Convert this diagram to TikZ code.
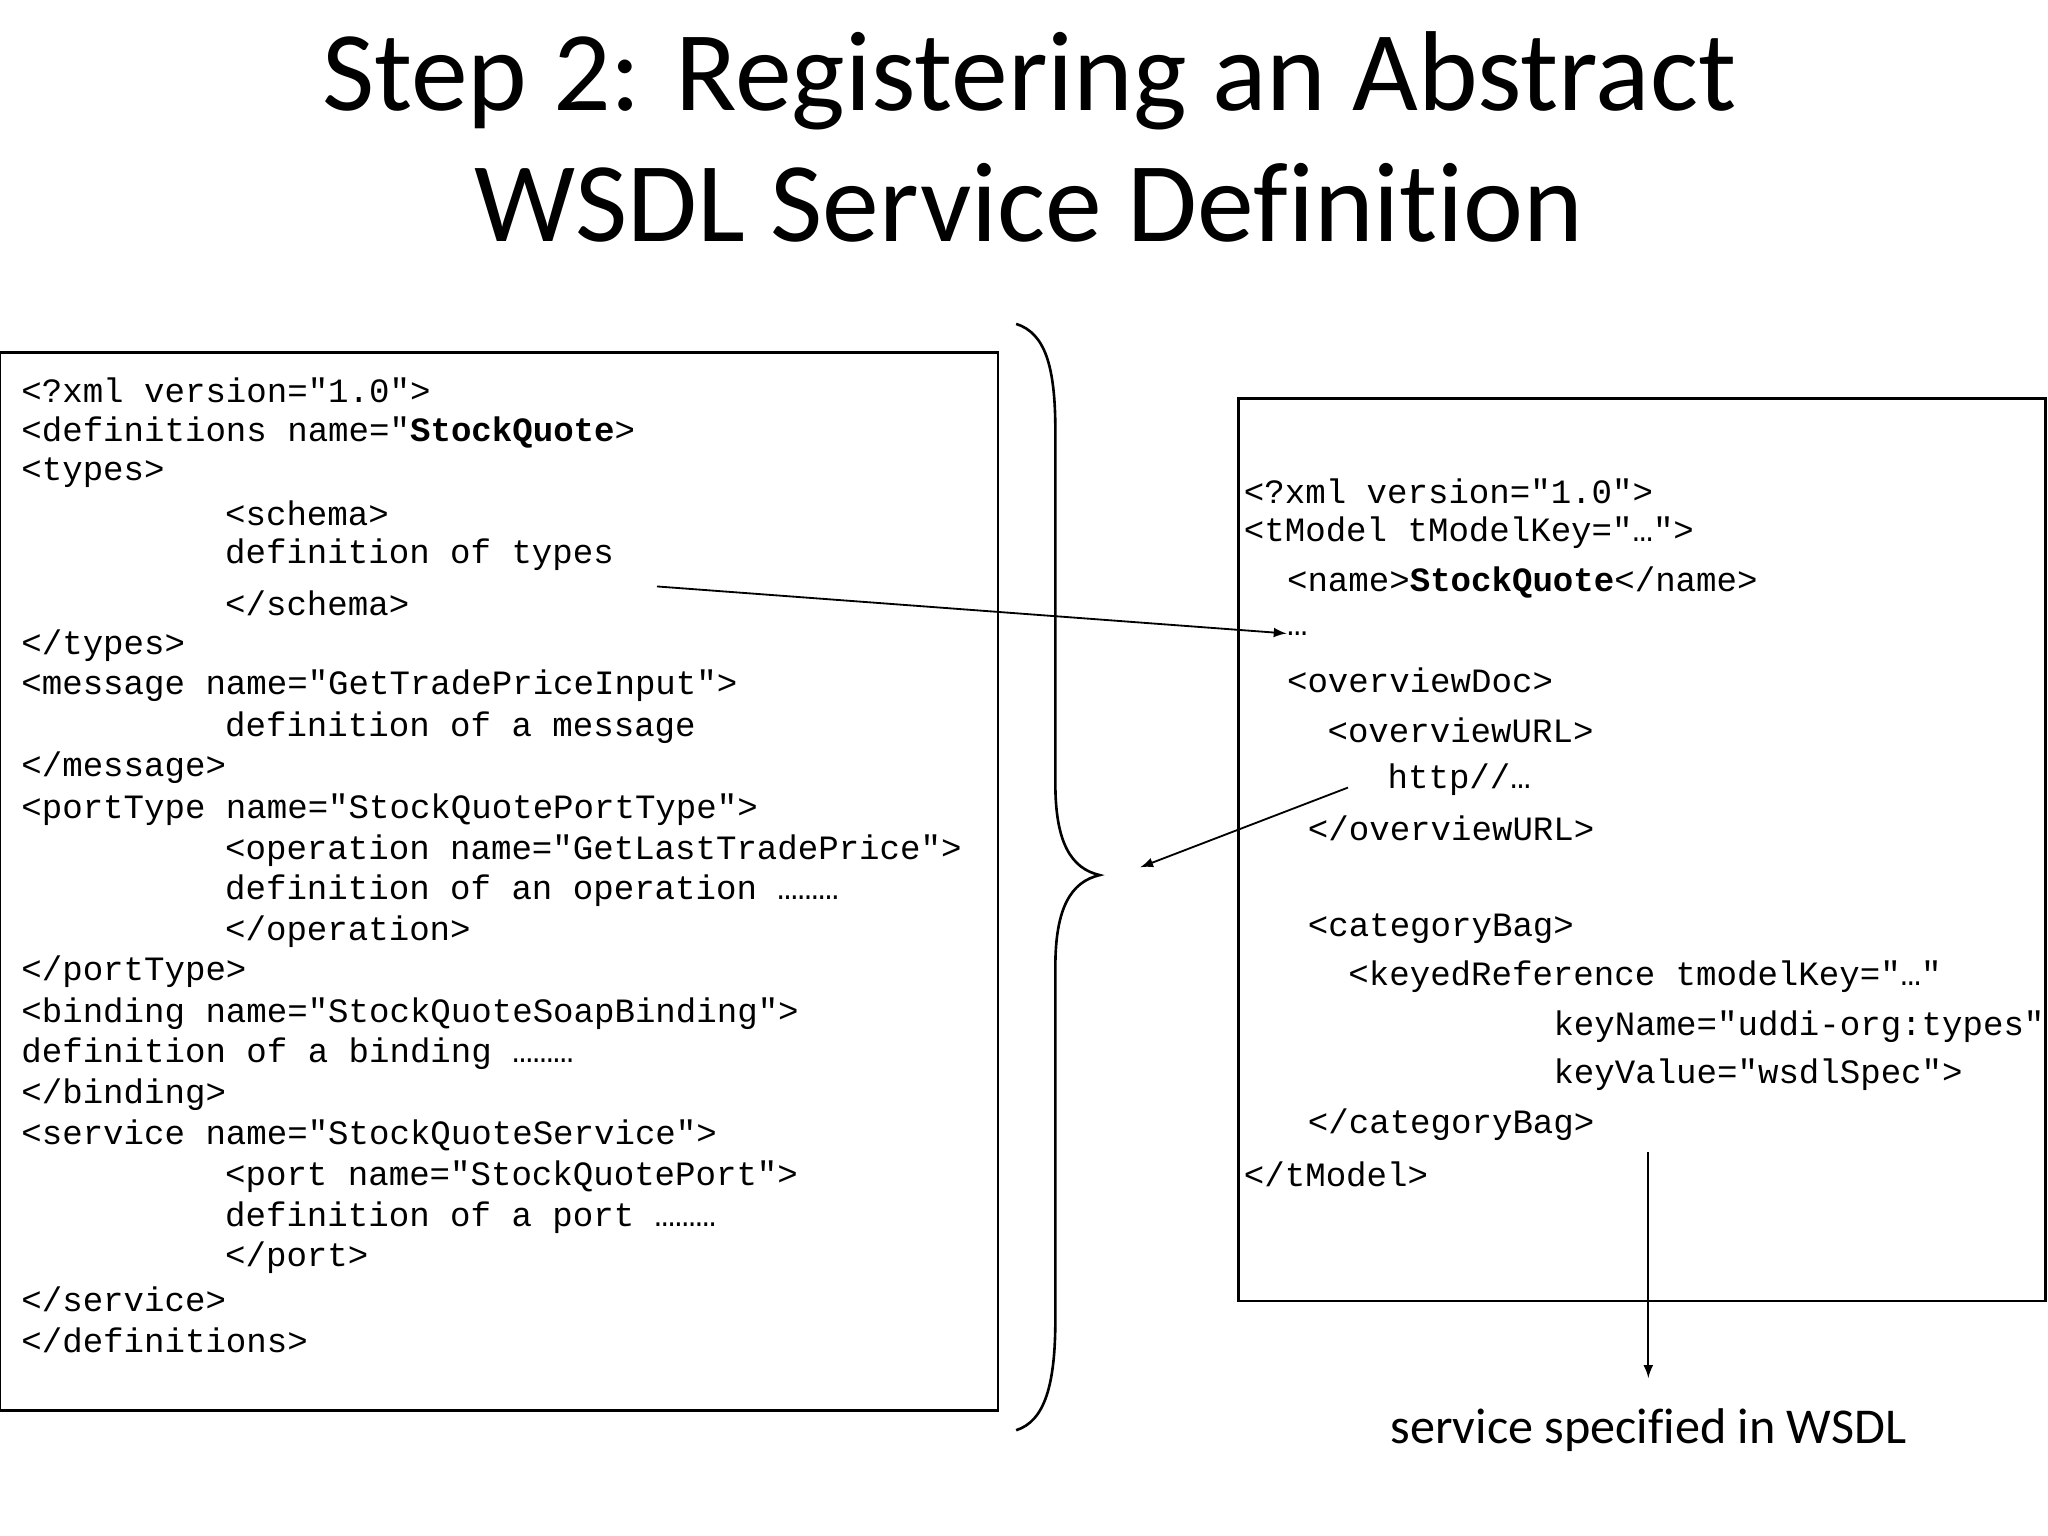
\documentclass[tikz,border=0pt]{standalone}
\usepackage{fontspec}
\setmainfont{Carlito}[Ligatures=NoCommon]
\setmonofont{Liberation Mono}
\begin{document}
\begin{tikzpicture}[x=0.5pt,y=-0.5pt,
  code/.style={anchor=west,inner sep=0pt,font=\fontsize{13.05}{14}\ttfamily},
  box/.style={draw,line width=1pt},
  arr/.style={->,>=latex,line width=0.7pt}]
\useasboundingbox (0,0) rectangle (1568,1176);
\node[font=\fontsize{43.5}{50}\selectfont,align=center] (title) at (788,105) {Step 2: Registering an Abstract\\WSDL Service Definition};
\draw[box] (0,270) rectangle (764,1080);
\draw[box] (948,305) rectangle (1566,996);
% brace
\draw[line width=1pt] (778,248) .. controls (800,255) and (808,280) .. (808,330)
  -- (808,600) .. controls (808,645) and (820,665) .. (842,670)
  .. controls (820,675) and (808,695) .. (808,740)
  -- (808,1010) .. controls (808,1060) and (800,1088) .. (778,1095);
\foreach \y/\x/\t [count=\i] in {
 299/16/{<?xml version="1.0">},
 331/16/{<definitions name="\textbf{StockQuote}>},
 362/16/{<types>},
 393/172/{<schema>},
 425/172/{definition of types},
 462/172/{</schema>},
 494/16/{</types>},
 525/16/{<message name="GetTradePriceInput">},
 557/172/{definition of a message},
 588/16/{</message>},
 620/16/{<portType name="StockQuotePortType">},
 651/172/{<operation name="GetLastTradePrice">},
 682/172/{definition of an operation ………},
 713/172/{</operation>},
 744/16/{</portType>},
 776/16/{<binding name="StockQuoteSoapBinding">},
 807/16/{definition of a binding ………},
 838/16/{</binding>},
 869/16/{<service name="StockQuoteService">},
 901/172/{<port name="StockQuotePort">},
 932/172/{definition of a port ………},
 963/172/{</port>},
 995/16/{</service>},
 1026/16/{</definitions>}}
 \node[code] (l\i) at (\x,\y) {\t};
\foreach \y/\x/\t [count=\i] in {
 376/952/{<?xml version="1.0">},
 408/952/{<tModel tModelKey="…">},
 446/985/{<name>\textbf{StockQuote}</name>},
 485/985/{…},
 521/985/{<overviewDoc>},
 559/1016/{<overviewURL>},
 597/1062/{http//…},
 634/1001/{</overviewURL>},
 711/1001/{<categoryBag>},
 748/1032/{<keyedReference tmodelKey="…"},
 786/1189/{keyName="uddi-org:types"},
 823/1189/{keyValue="wsdlSpec">},
 861/1001/{</categoryBag>},
 899/952/{</tModel>}}
 \node[code] (r\i) at (\x,\y) {\t};
\coordinate (a1s) at (503,449);
\coordinate (a2s) at (1032,603);
\coordinate (a2e) at (873,664);
\coordinate (a3s) at (1262,882);
\coordinate (a3e) at (1262,1055);
\node[font=\fontsize{19.2}{22}\selectfont] (svc) at (1262,1095) {service specified in WSDL};
\draw[arr] (a1s) -- (r4.west);
\draw[arr] (a2s) -- (a2e);
\draw[arr] (a3s) -- (a3e);
\end{tikzpicture}
\end{document}
